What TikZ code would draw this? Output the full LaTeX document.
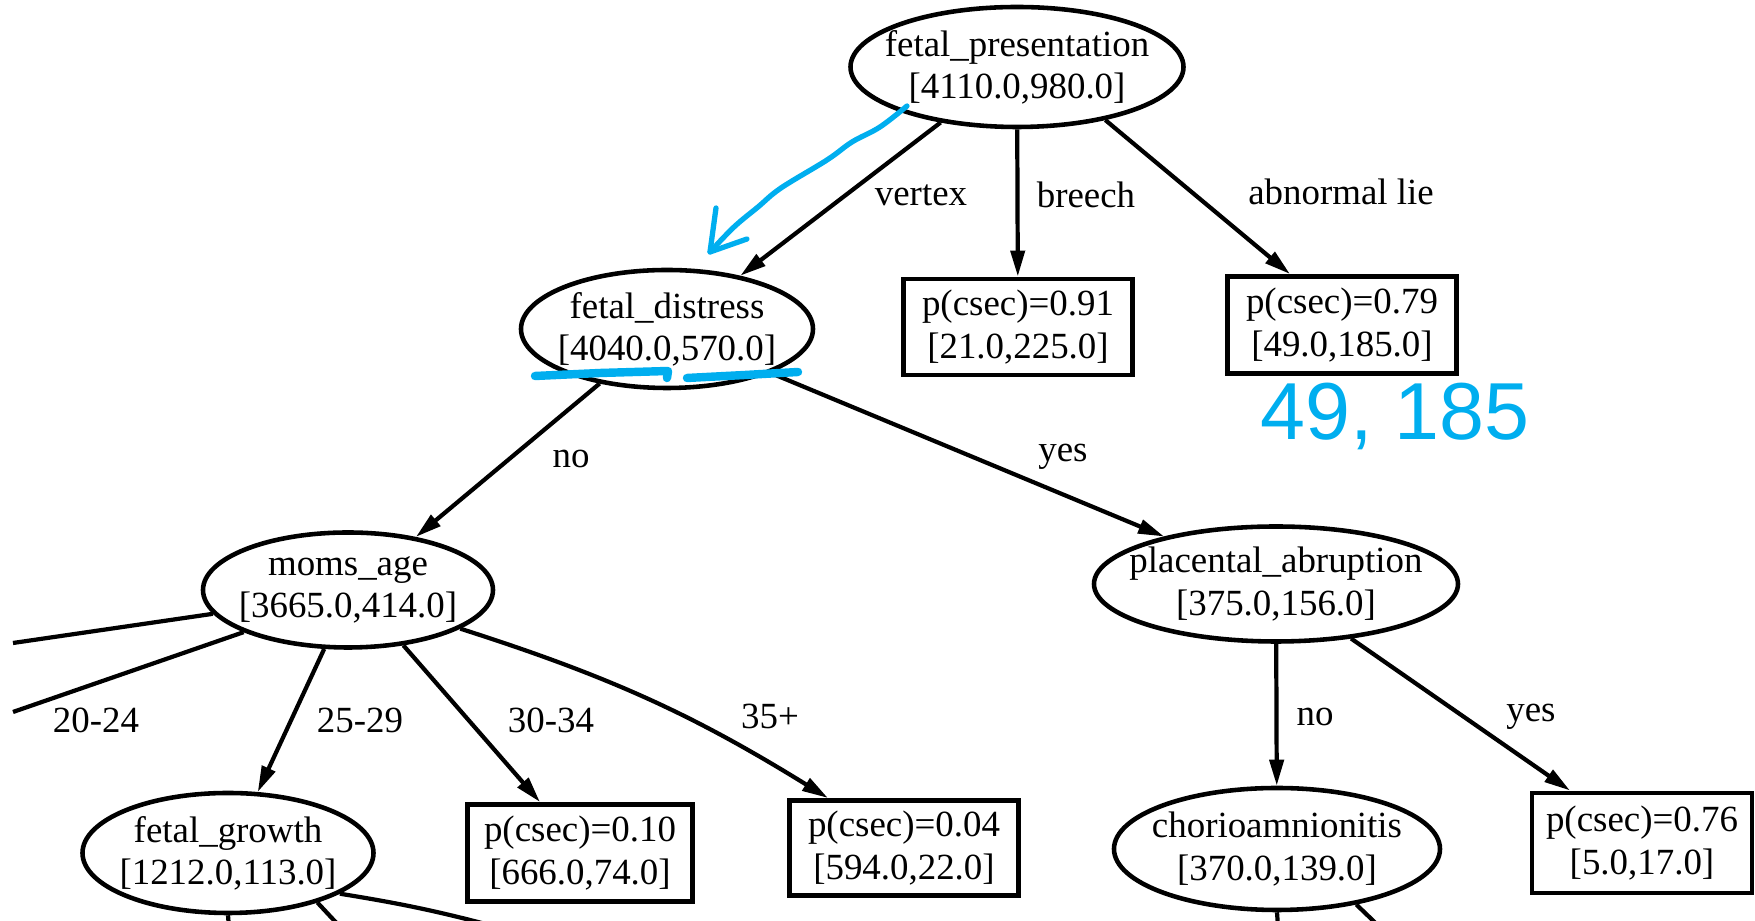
\documentclass[tikz,border=0pt]{standalone}
\usepackage{fontspec}
\setmainfont{Liberation Serif}
\newfontfamily\handfont{Liberation Sans}
\usetikzlibrary{arrows.meta,shapes.geometric}
\definecolor{inkblue}{RGB}{0,174,239}
\newcommand{\cnt}[1]{{[}#1{]}}

\begin{document}
\begin{tikzpicture}[x=0.1mm, y=-0.1mm, line width=1.2pt,
    >={Triangle[length=2.6mm,width=1.4mm]},
    every node/.style={font=\fontsize{10.5}{12}\selectfont},
    V/.style={draw, ellipse, line width=1.3pt, inner xsep=-3mm,
        inner ysep=0pt, align=center},
    P/.style={draw, line width=1.4pt, inner sep=0pt,
        minimum width=22.9mm, minimum height=9.6mm, align=center},
    N/.style={inner sep=0pt},
    H/.style={draw=inkblue, line cap=round, line join=round}]
    \useasboundingbox (0,0) rectangle (1755,921);
    \clip (0,0) rectangle (1755,921);

    % splits
    \node[V, minimum width=33.3mm, minimum height=12mm] (fp) at (1017,67)
        {fetal\_presentation\\\cnt{4110.0,980.0}};
    \node[V, minimum width=29.2mm, minimum height=11.8mm] (fd) at (667,329)
        {fetal\_distress\\\cnt{4040.0,570.0}};
    \node[V, minimum width=29mm, minimum height=11.5mm] (ma) at (348,590)
        {moms\_age\\\cnt{3665.0,414.0}};
    \node[V, minimum width=36.4mm, minimum height=11.5mm] (pa) at (1276,584)
        {placental\_abruption\\\cnt{375.0,156.0}};
    \node[V, minimum width=29.1mm, minimum height=12mm] (fg) at (228,853)
        {fetal\_growth\\\cnt{1212.0,113.0}};
    \node[V, minimum width=32.6mm, minimum height=12.2mm] (ch) at (1277,849)
        {chorioamnionitis\\\cnt{370.0,139.0}};

    % leaves
    \node[P] (b1) at (1018,327) {p(csec)=0.91\\\cnt{21.0,225.0}};
    \node[P, minimum height=9.7mm] (b2) at (1342,325) {p(csec)=0.79\\\cnt{49.0,185.0}};
    \node[P, minimum width=22.5mm, minimum height=9.7mm] (b3) at (580,853)
        {p(csec)=0.10\\\cnt{666.0,74.0}};
    \node[P, minimum height=9.5mm] (b4) at (904,848) {p(csec)=0.04\\\cnt{594.0,22.0}};
    \node[P, minimum width=22mm, minimum height=10mm] (b5) at (1642,843)
        {p(csec)=0.76\\\cnt{5.0,17.0}};

    % loose ends
    \coordinate (w1) at (13,643);
    \coordinate (w2) at (13,712);
    \coordinate (g1) at (230,940);
    \coordinate (g2) at (343,930);
    \coordinate (g3) at (508,930);
    \coordinate (c1) at (1279,940);
    \coordinate (c2) at (1388,935);

    \draw[->] (fp.216) -- (fd.36);
    \draw[->] (fp) -- (b1);
    \draw[->] (fp.329) -- ([xshift=-5.2mm]b2.north);
    \draw[->] (fd.219) -- (ma.38);
    \draw[->] (fd.337) -- (pa.157);
    \draw (ma.190) -- (w1);
    \draw (ma.202) -- (w2);
    \draw[->] (ma.248) -- (fg.64);
    \draw[->] (ma.315) -- ([xshift=-4mm]b3.north);
    \draw[->] (ma.341) to[bend left=7] ([xshift=-7.6mm]b4.north);
    \draw[->] (pa) -- (ch);
    \draw[->] (pa.324) -- ([xshift=-7.2mm]b5.north);
    \draw (fg.south) -- (g1);
    \draw (fg.331) -- (g2);
    \draw (fg.340) to[bend left=3] (g3);
    \draw (ch.south) -- (c1);
    \draw (ch.325) -- (c2);

    % edge labels
    \node[N] (l1) at (921,195) {vertex};
    \node[N] (l2) at (1086,195) {breech};
    \node[N] (l3) at (1341,192) {abnormal lie};
    \node[N] (l4) at (571,459) {no};
    \node[N] (l5) at (1063,457) {yes};
    \node[N] (l6) at (96,720) {20-24};
    \node[N] (l7) at (360,720) {25-29};
    \node[N] (l8) at (551,720) {30-34};
    \node[N] (l9) at (770,716) {35+};
    \node[N] (l10) at (1315,717) {no};
    \node[N] (l11) at (1531,717) {yes};

    % ink
    \draw[H, line width=1.5pt] plot[smooth, tension=0.6] coordinates {(907,106)
        (880,127) (852,142) (827,160) (781,188) (758,207) (734,227) (710,252)};
    \draw[H, line width=1.5pt] (716,208) -- (710,252) -- (747,239);
    \draw[H, line width=2.4pt] (535,376) -- (600,373) -- (668,371) -- (667,378);
    \draw[H, line width=2.4pt] (687,378) -- (745,375) -- (798,372);
    \node[inkblue, font=\handfont\fontsize{23}{23}\selectfont, anchor=base,
        inner sep=0pt] (hw) at (1395,440) {49, 185};
\end{tikzpicture}
\end{document}
